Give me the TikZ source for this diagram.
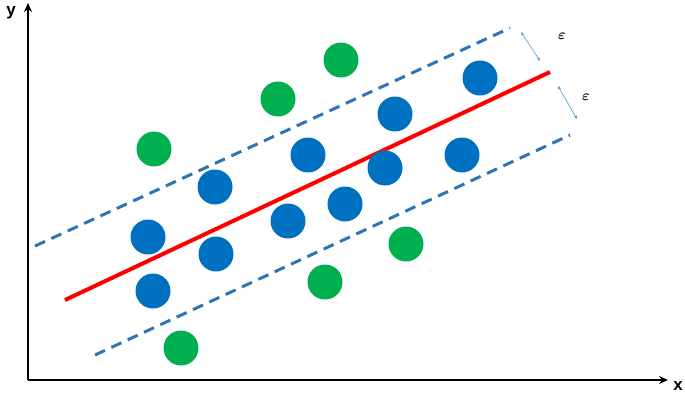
\documentclass[tikz,border=0pt]{standalone}
\usepackage{amsmath,bm}
\usepackage{fontspec}
\setmainfont{Liberation Sans}
\usetikzlibrary{arrows.meta}
\definecolor{bdot}{HTML}{0070C0}
\definecolor{gdot}{HTML}{00B050}
\definecolor{dline}{HTML}{2E75B6}
\begin{document}
\begin{tikzpicture}[x=1pt,y=-1pt,
  bd/.style={circle,fill=bdot,minimum size=35pt,inner sep=0pt},
  gd/.style={circle,fill=gdot,minimum size=35pt,inner sep=0pt},
  ax/.style={line width=2pt,-{Stealth[length=9pt,width=8pt]}},
  dl/.style={dline,line width=3pt,dash pattern=on 11pt off 7pt},
  ep/.style={bdot!70,line width=0.6pt,{Stealth[length=4pt]}-{Stealth[length=4pt]}},
  lbl/.style={font=\bfseries\fontsize{17}{17}\selectfont},
  epl/.style={font=\fontsize{15}{15}\selectfont}]
\useasboundingbox (0,0) rectangle (685,400);
\coordinate (o) at (28,380);
\coordinate (yt) at (28,3);
\coordinate (xt) at (668,380);
\draw[ax] (o) -- (yt);
\draw[ax] (o) -- (xt);
\node[lbl] (ly) at (11,13) {y};
\node[lbl] (lx) at (678,386) {x};
\coordinate (u1) at (35,246); \coordinate (u2) at (510,28);
\coordinate (l1) at (95,355); \coordinate (l2) at (570,135);
\coordinate (r1) at (65,300); \coordinate (r2) at (550,72);
\draw[dl] (u1) -- (u2);
\draw[dl] (l1) -- (l2);
\draw[red,line width=4pt] (r1) -- (r2);
\coordinate (e1a) at (521,32); \coordinate (e1b) at (540,61);
\coordinate (e2a) at (558,86); \coordinate (e2b) at (577,119);
\draw[ep] (e1a) -- (e1b);
\draw[ep] (e2a) -- (e2b);
\node[epl] (eps1) at (562,36) {$\bm{\varepsilon}$};
\node[epl] (eps2) at (586,97) {$\bm{\varepsilon}$};
\foreach \p [count=\i] in {(480,78),(395,114),(308,155),(215,187),(385,168),(462,155),(345,204),(288,221),(148,237),(216,254),(153,291)}
  \node[bd] (b\i) at \p {};
\foreach \p [count=\i] in {(341,60),(278,99),(154,149),(406,244),(325,282),(181,348)}
  \node[gd] (g\i) at \p {};
\end{tikzpicture}
\end{document}
